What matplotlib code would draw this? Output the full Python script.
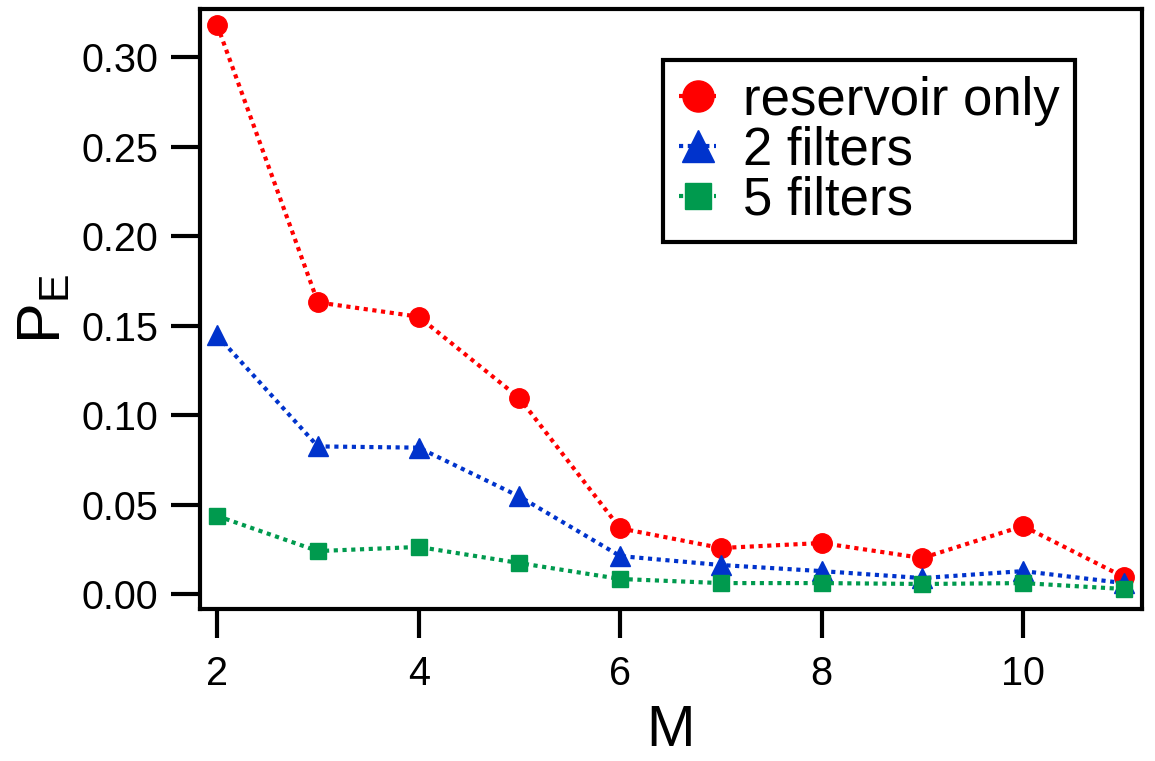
import numpy as np
import matplotlib
matplotlib.use('Agg')
import matplotlib.pyplot as plt

plt.rcParams['font.family'] = ['Liberation Sans', 'DejaVu Sans']
plt.rcParams['mathtext.fontset'] = 'custom'
plt.rcParams['mathtext.rm'] = 'Liberation Sans'
plt.rcParams['mathtext.it'] = 'Liberation Sans'

# values
M = [2, 3, 4, 5, 6, 7, 8, 9, 10, 11]
reservoir_only = [0.318, 0.163, 0.155, 0.1095, 0.0367, 0.0257, 0.0285, 0.0201, 0.0380, 0.0095]
two_filters = [0.1445, 0.0825, 0.0818, 0.0545, 0.0212, 0.0162, 0.0128, 0.0089, 0.0128, 0.0061]
five_filters = [0.0436, 0.0240, 0.0263, 0.0173, 0.0084, 0.0061, 0.0061, 0.0056, 0.0061, 0.0028]
labels = ['reservoir only', '2 filters', '5 filters']

fig = plt.figure(figsize=(11.55, 7.61), dpi=100)
ax = fig.add_axes([0.1732, 0.1997, 0.8155, 0.7885])

dots = (0, (1, 1.1))
ax.plot(M, reservoir_only, color='#ff0000', ls=dots, lw=3, marker='o', ms=14,
        dash_capstyle='butt', label=labels[0])
ax.plot(M, two_filters, color='#0033cc', ls=dots, lw=3, marker='^', ms=14,
        dash_capstyle='butt', label=labels[1])
ax.plot(M, five_filters, color='#009a4e', ls=dots, lw=3, marker='s', ms=12,
        dash_capstyle='butt', label=labels[2])

ax.set_xlim(1.83, 11.18)
ax.set_ylim(-0.0084, 0.327)
ax.set_xticks([2, 4, 6, 8, 10])
ax.set_yticks(np.arange(0, 0.31, 0.05))
ax.set_yticklabels(['%.2f' % v for v in np.arange(0, 0.31, 0.05)])

for s in ax.spines.values():
    s.set_linewidth(3)
ax.tick_params(direction='out', length=21, width=3, labelsize=28.5, pad=9)
ax.tick_params(axis='x', pad=12)

ax.set_xlabel('M', fontsize=42, labelpad=8)
ax.set_ylabel(r'$\mathregular{P_E}$', fontsize=44, labelpad=6)

leg = ax.legend(loc='upper right', bbox_to_anchor=(0.929, 0.915), fontsize=38,
                markerscale=1.6, handlelength=0.7, handletextpad=0.5,
                labelspacing=0.0, borderpad=0.3, borderaxespad=0,
                fancybox=False, framealpha=1, edgecolor='black')
leg.get_frame().set_linewidth(3)

fig.savefig('out.png', dpi=100)
